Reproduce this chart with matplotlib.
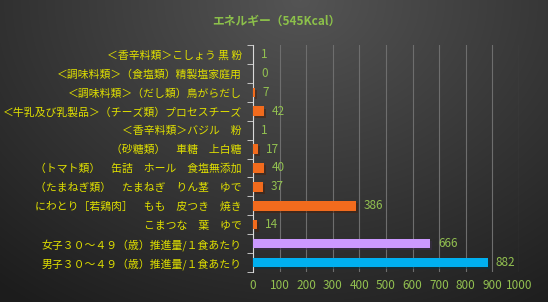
import numpy as np
import matplotlib
matplotlib.use("Agg")
import matplotlib.pyplot as plt
import matplotlib.patheffects as pe

plt.rcParams['font.family'] = ['Noto Sans CJK JP', 'DejaVu Sans']

# data (top to bottom)
labels = [
    "＜香辛料類＞こしょう 黒 粉",
    "＜調味料類＞（食塩類）精製塩家庭用",
    "＜調味料類＞（だし類）鳥がらだし",
    "＜牛乳及び乳製品＞（チーズ類）プロセスチーズ",
    "＜香辛料類＞バジル　粉",
    "（砂糖類）　車糖　上白糖",
    "（トマト類）　缶詰　ホール　食塩無添加",
    "（たまねぎ類）　たまねぎ　りん茎　ゆで",
    "にわとり［若鶏肉］　もも　皮つき　焼き",
    "こまつな　葉　ゆで",
    "女子３０～４９（歳）推進量/１食あたり",
    "男子３０～４９（歳）推進量/１食あたり",
]
values = [1, 0, 7, 42, 1, 17, 40, 37, 386, 14, 666, 882]
colors = ["#f26b1d"] * 10 + ["#cc99ff", "#00b0f0"]
title = "エネルギー（545Kcal）"

fig = plt.figure(figsize=(5.48, 3.02), dpi=100)

# background gradient, lighter at top centre
bg = fig.add_axes([0, 0, 1, 1])
yy, xx = np.mgrid[0:302, 0:548]
d = np.sqrt(((xx - 300) / 430.0) ** 2 + ((yy - 0) / 340.0) ** 2)
shade = np.clip(0.33 - 0.2 * d, 0.11, 0.34)
bg.imshow(np.dstack([shade] * 3), aspect='auto', extent=[0, 1, 0, 1])
bg.axis('off')

ax = fig.add_axes([253 / 548, 1 - 272 / 302, 266 / 548, 227 / 302])
ax.patch.set_alpha(0)
y = np.arange(len(labels))
ax.barh(y, values, height=0.5, color=colors, zorder=3,
        path_effects=[pe.SimplePatchShadow(offset=(1.5, -1.5), alpha=0.5), pe.Normal()])
ax.set_ylim(len(labels) - 0.5, -0.5)
ax.set_xlim(0, 1000)
ax.set_xticks(np.arange(0, 1001, 100))
ax.set_yticks(y)
ax.set_yticklabels(labels)
ax.grid(axis='x', color='#6e6e6e', linewidth=0.8, zorder=0)
for s in ['top', 'right', 'bottom']:
    ax.spines[s].set_visible(False)
ax.spines['left'].set_color('#d9d9d9')
ax.tick_params(axis='y', labelcolor='#e0e000', labelsize=7.8, length=0, pad=8)
ax.tick_params(axis='x', length=0, labelcolor='#92c050', labelsize=8.5, pad=5)
ax.set_yticks(np.arange(-0.5, len(labels), 1), minor=True)
ax.tick_params(axis='y', which='minor', length=4, color='#d9d9d9')

for yi, v in zip(y, values):
    ax.text(v + 30, yi, str(v), va='center', ha='left', color='#92c050', fontsize=8.5)

fig.text(0.505, 0.93, title, ha='center', va='center', color='#8cc04a', fontsize=8.5, fontweight='bold')

fig.savefig("out.png", dpi=100)
